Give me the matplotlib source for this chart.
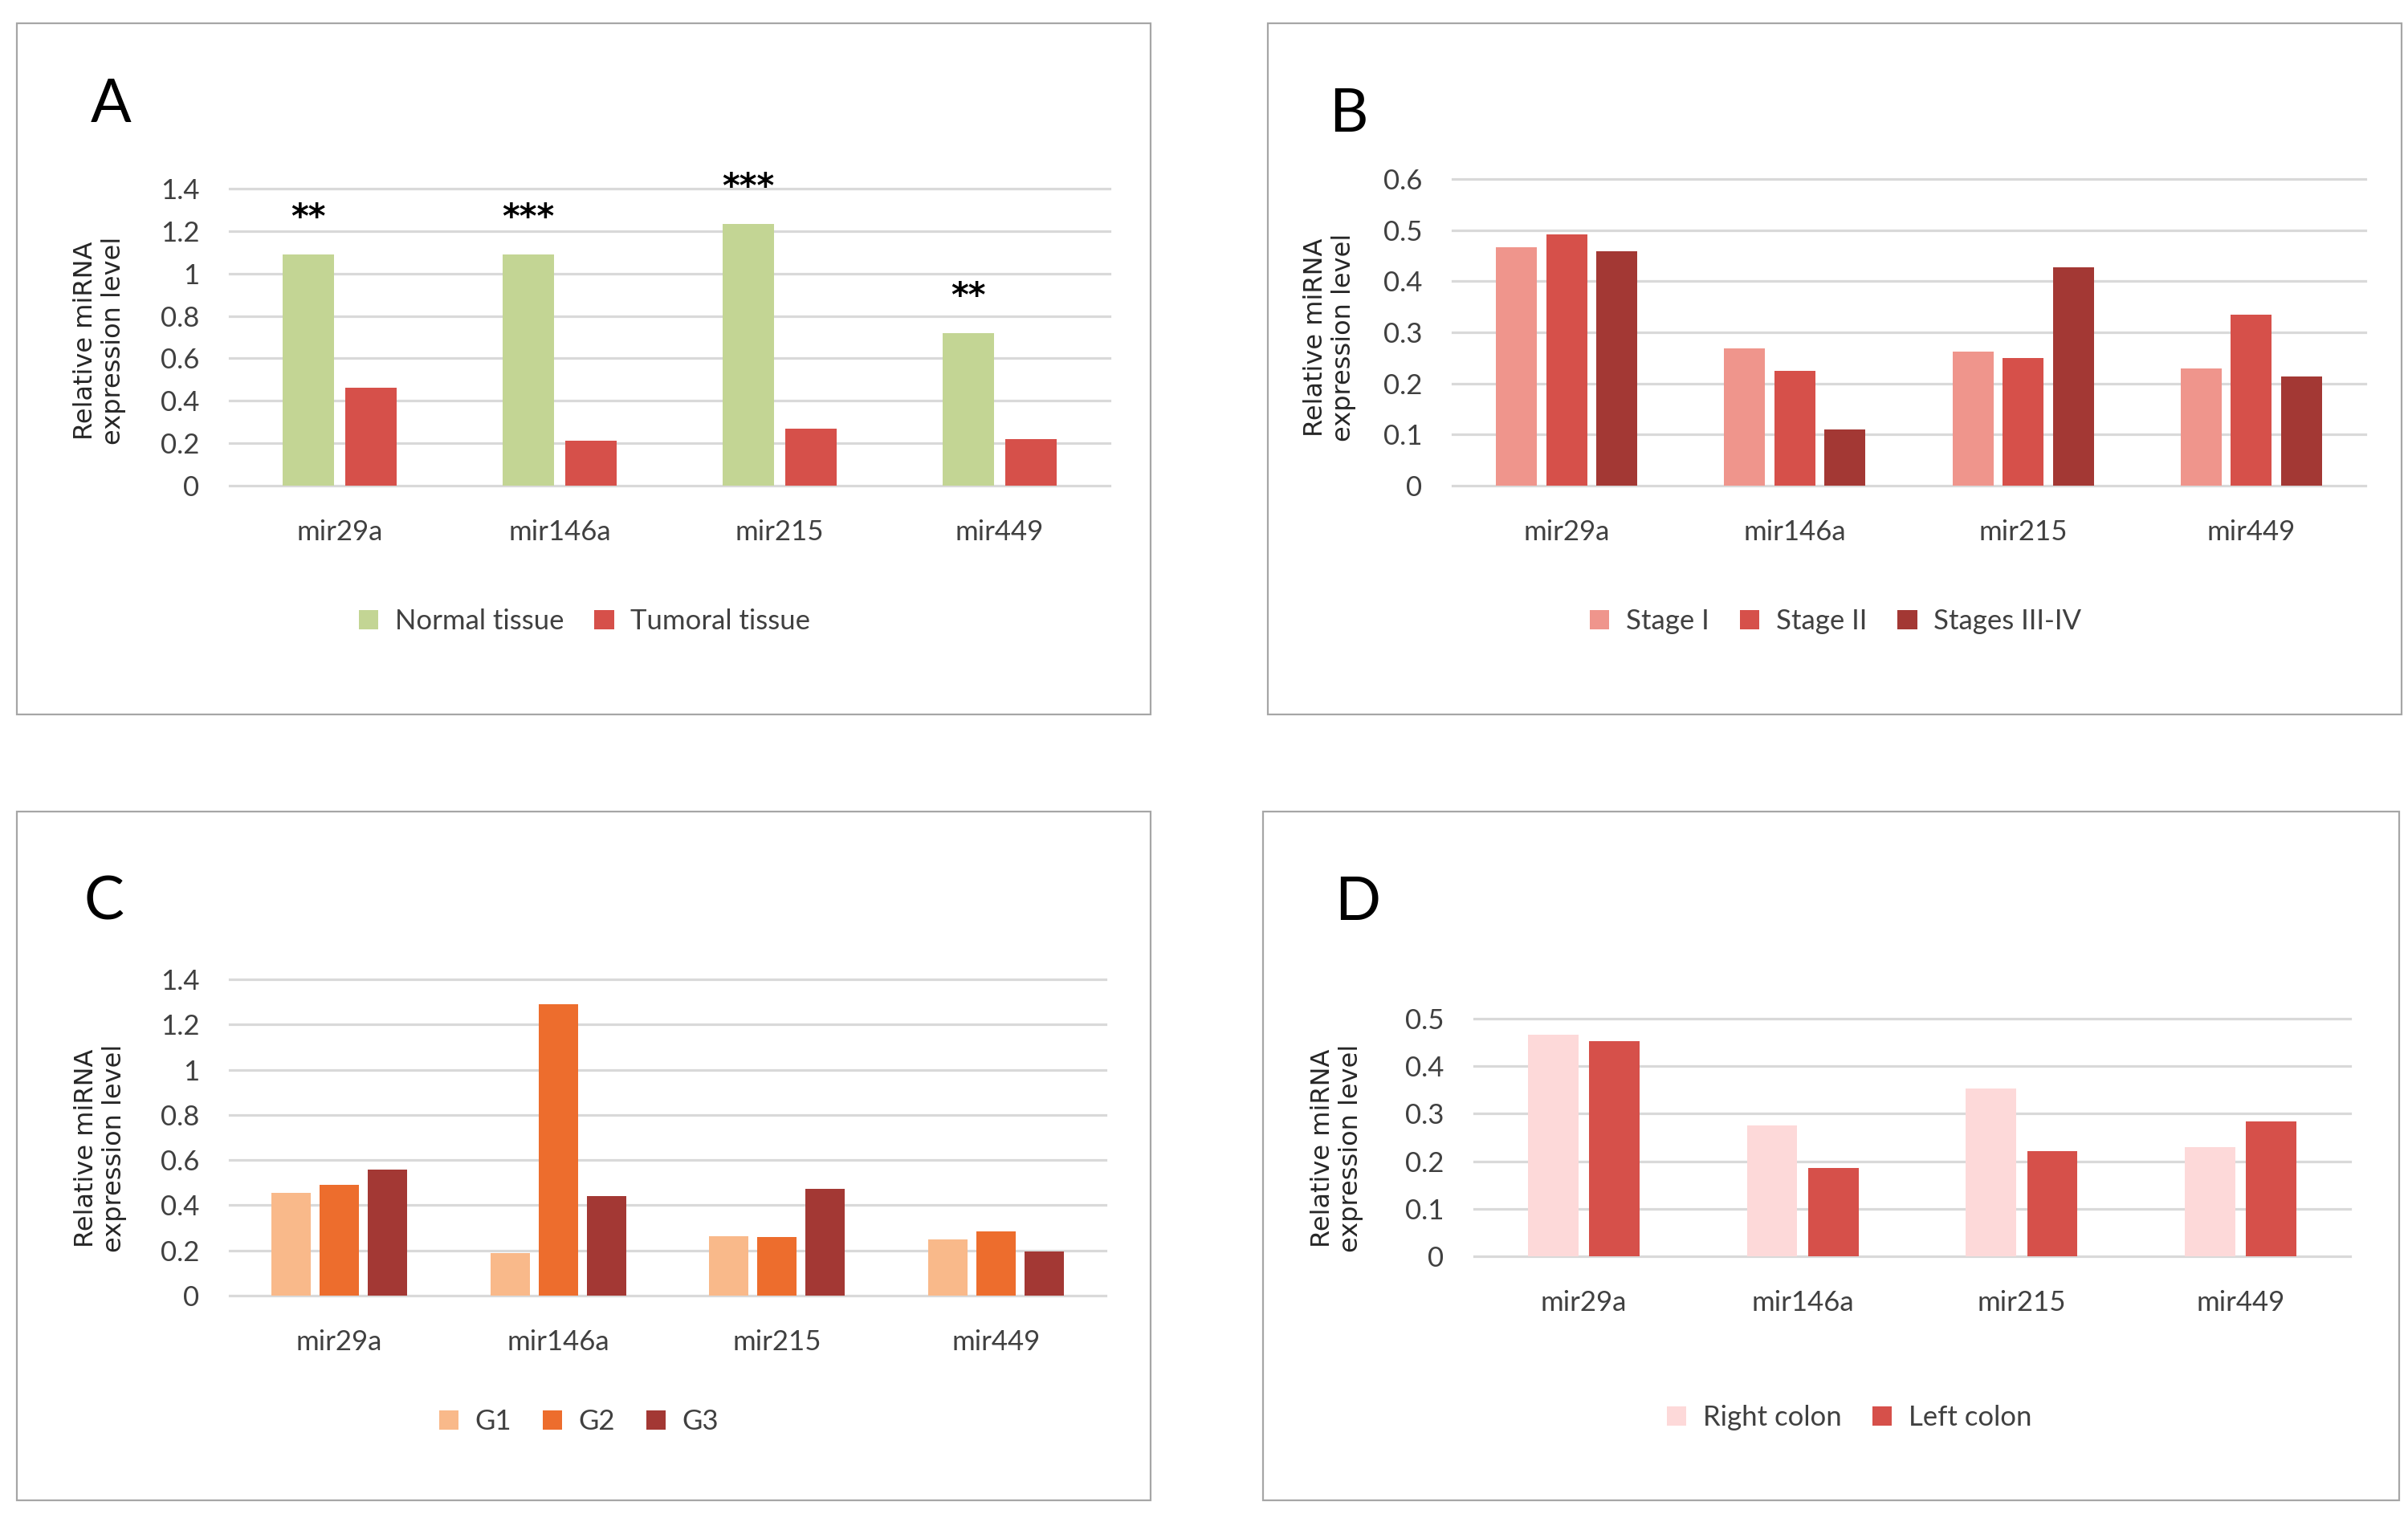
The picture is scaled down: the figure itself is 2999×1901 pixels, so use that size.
import matplotlib
matplotlib.use("Agg")
import matplotlib.pyplot as plt
import numpy as np
from matplotlib.patches import Rectangle
from matplotlib.ticker import FuncFormatter, MultipleLocator

# ---------------- data ----------------
categories = ["mir29a", "mir146a", "mir215", "mir449"]

a_labels = ["Normal tissue", "Tumoral tissue"]
a_normal = [1.09, 1.09, 1.232, 0.72]
a_tumoral = [0.462, 0.213, 0.269, 0.218]
a_stars = ["**", "***", "***", "**"]

b_labels = ["Stage I", "Stage II", "Stages III-IV"]
b_stage1 = [0.466, 0.268, 0.262, 0.229]
b_stage2 = [0.491, 0.225, 0.249, 0.334]
b_stage34 = [0.459, 0.110, 0.427, 0.213]

c_labels = ["G1", "G2", "G3"]
c_g1 = [0.455, 0.190, 0.264, 0.249]
c_g2 = [0.489, 1.290, 0.260, 0.284]
c_g3 = [0.558, 0.442, 0.472, 0.197]

d_labels = ["Right colon", "Left colon"]
d_right = [0.467, 0.275, 0.353, 0.229]
d_left = [0.453, 0.186, 0.221, 0.284]

ylabel = "Relative miRNA\nexpression level"

# ---------------- style ----------------
W, H = 2999, 1901
DPI = 100
fig = plt.figure(figsize=(W / DPI, H / DPI), dpi=DPI)
fig.patch.set_facecolor("white")

TICK_FONT = ["Lato", "DejaVu Sans"]
TXT = "#404040"
GRID = "#D9D9D9"


def fx(px):
    return px / W


def fy(py):
    return 1 - py / H


def panel_box(x0, y0, x1, y1):
    fig.patches.append(Rectangle((fx(x0), fy(y1)), fx(x1) - fx(x0), fy(y0) - fy(y1),
                                 transform=fig.transFigure, fill=False,
                                 edgecolor="#A6A6A6", linewidth=1.6, zorder=0))


def make_axes(x0, x1, ytop, ybot):
    ax = fig.add_axes([fx(x0), fy(ybot), fx(x1) - fx(x0), fy(ytop) - fy(ybot)])
    for s in ax.spines.values():
        s.set_visible(False)
    ax.set_facecolor("none")
    return ax


def style_axes(ax, ymax, step):
    ax.set_xlim(-0.5, len(categories) - 0.5)
    ax.set_ylim(0, ymax)
    ax.yaxis.set_major_locator(MultipleLocator(step))
    ax.yaxis.set_major_formatter(FuncFormatter(lambda v, p: f"{round(v, 2):g}"))
    ax.set_xticks(np.arange(len(categories)))
    ax.set_xticklabels(categories)
    ax.tick_params(axis="both", length=0, labelsize=25, labelcolor=TXT)
    ax.tick_params(axis="y", pad=27)
    ax.tick_params(axis="x", pad=30)
    for lab in ax.get_xticklabels() + ax.get_yticklabels():
        lab.set_family(TICK_FONT)
    ax.set_axisbelow(True)
    ax.yaxis.grid(True, color=GRID, linewidth=2.3)
    for gl in ax.get_ygridlines():
        gl.set_clip_on(False)


def draw_bars(ax, series, colors, width, step):
    n = len(series)
    x = np.arange(len(categories))
    handles = []
    for i, (vals, col) in enumerate(zip(series, colors)):
        off = (i - (n - 1) / 2) * step
        h = ax.bar(x + off, vals, width=width, color=col, linewidth=0, zorder=3)
        handles.append(h)
    return handles


def legend(handles, labels, cx, cy):
    leg = fig.legend(handles, labels, loc="center", bbox_to_anchor=(fx(cx), fy(cy)),
                     ncol=len(labels), frameon=False, fontsize=25,
                     handlelength=0.7, handleheight=0.7, handletextpad=0.6,
                     columnspacing=1.1, prop={"family": TICK_FONT, "size": 25})
    for t in leg.get_texts():
        t.set_color(TXT)


def letter(s, x, y):
    fig.text(fx(x), fy(y), s, fontsize=54, family=["Lato", "DejaVu Sans"],
             ha="center", va="center", color="black")


def ylab(x, y):
    fig.text(fx(x), fy(y), ylabel, rotation=90, ha="center", va="center",
             fontsize=23, family="DejaVu Sans", color="#262626",
             multialignment="center", linespacing=1.2)


# ---------------- panel A ----------------
panel_box(21, 29, 1433, 890)
axA = make_axes(286, 1382, 235, 605)
style_axes(axA, 1.4, 0.2)
hA = draw_bars(axA, [a_normal, a_tumoral], ["#C3D594", "#D6504A"], 0.235, 0.285)
for i, s in enumerate(a_stars):
    axA.text(i - 0.1425, a_normal[i] + 0.17, s, ha="center", va="center",
             fontsize=30, fontweight="bold", color="black", family="DejaVu Sans")
letter("A", 138, 130)
ylab(124, 424)
legend(hA, a_labels, 728, 774)

# ---------------- panel B ----------------
panel_box(1579, 29, 2991, 890)
axB = make_axes(1809, 2946, 223, 605)
style_axes(axB, 0.6, 0.1)
hB = draw_bars(axB, [b_stage1, b_stage2, b_stage34],
               ["#EF958C", "#D6504A", "#A33834"], 0.18, 0.22)
letter("B", 1679, 143)
ylab(1656, 420)
legend(hB, b_labels, 2286, 774)

# ---------------- panel C ----------------
panel_box(21, 1011, 1433, 1869)
axC = make_axes(286, 1377, 1220, 1614)
style_axes(axC, 1.4, 0.2)
hC = draw_bars(axC, [c_g1, c_g2, c_g3], ["#F9B98A", "#ED6D2D", "#A33834"], 0.18, 0.22)
letter("C", 129, 1124)
ylab(125, 1430)
legend(hC, c_labels, 721, 1771)

# ---------------- panel D ----------------
panel_box(1573, 1011, 2988, 1869)
axD = make_axes(1836, 2927, 1269, 1565)
style_axes(axD, 0.5, 0.1)
hD = draw_bars(axD, [d_right, d_left], ["#FDD9D9", "#D6504A"], 0.23, 0.28)
letter("D", 1691, 1124)
ylab(1665, 1430)
legend(hD, d_labels, 2303, 1766)

fig.savefig("out.png", dpi=DPI, facecolor="white")
